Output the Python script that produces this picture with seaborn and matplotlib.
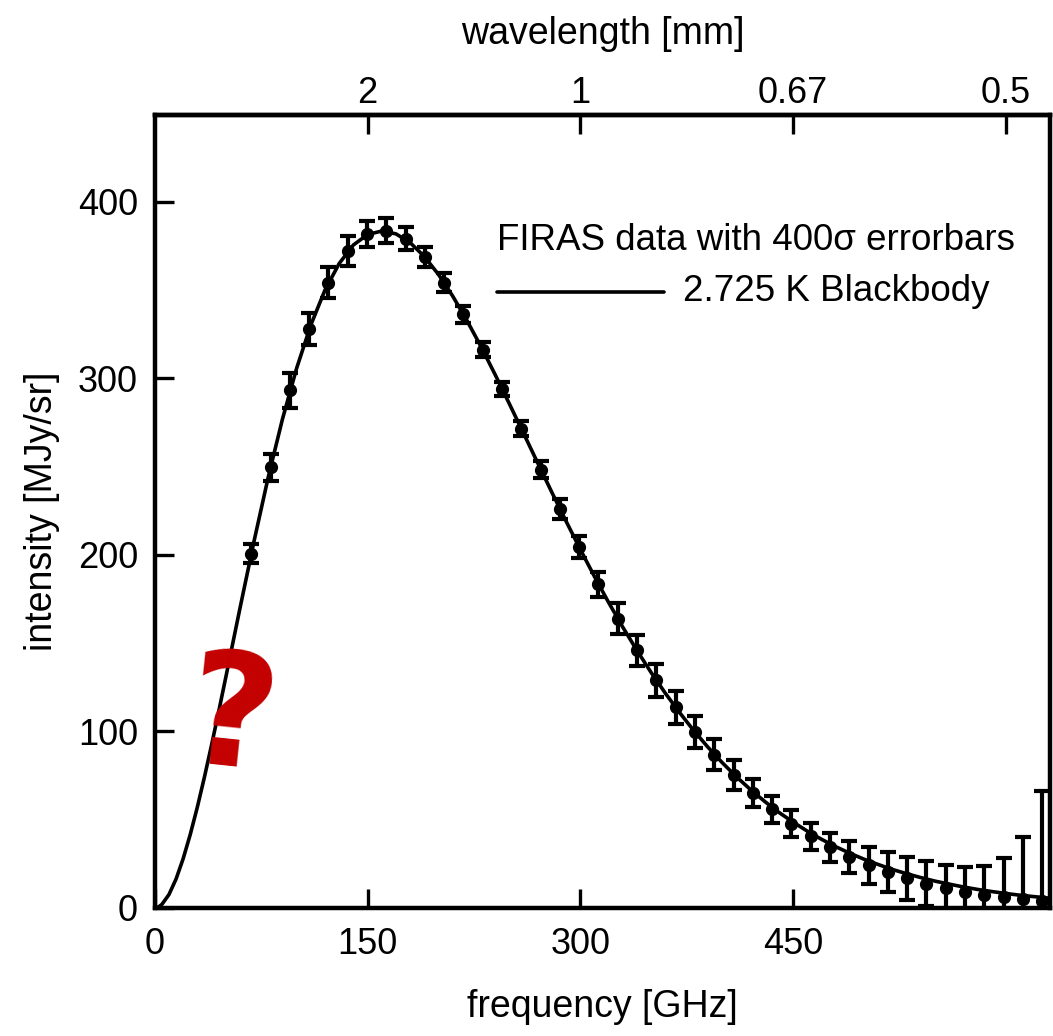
import matplotlib
matplotlib.use("Agg")
import matplotlib.pyplot as plt
import seaborn as sns
import pandas as pd
from matplotlib import font_manager

# ---------------- data ----------------
freq_ghz = [68.1, 81.6, 95.2, 108.8, 122.4, 136.0, 149.6, 163.2, 176.8, 190.4,
            204.0, 217.6, 231.2, 244.8, 258.4, 272.0, 285.6, 299.2, 312.8, 326.4,
            340.0, 353.6, 367.2, 380.8, 394.4, 408.0, 421.6, 435.2, 448.8, 462.4,
            476.0, 489.6, 503.2, 516.8, 530.4, 544.0, 557.6, 571.2, 584.8, 598.4,
            612.0, 625.6]
intensity = [200.7, 249.5, 293.0, 327.8, 354.1, 372.1, 381.5, 383.5, 378.9, 368.8,
             354.1, 336.3, 316.1, 293.9, 271.4, 248.2, 225.9, 204.3, 183.3, 163.8,
             145.8, 128.8, 113.6, 99.5, 86.8, 75.3, 65.0, 55.8, 47.6, 40.6,
             34.3, 28.9, 24.2, 20.2, 16.7, 13.8, 11.3, 9.3, 7.6, 6.1,
             4.9, 4.0]
err_400sigma = [5.6, 7.6, 10.0, 9.2, 8.8, 8.4, 7.2, 7.2, 6.4, 5.6,
                5.2, 4.8, 4.4, 4.0, 4.4, 4.8, 5.6, 6.4, 7.2, 8.8,
                8.8, 9.2, 9.2, 9.2, 8.8, 8.4, 8.0, 7.6, 7.6, 7.6,
                8.4, 9.2, 10.4, 11.2, 12.0, 12.8, 13.2, 14.0, 16.4, 22.0,
                35.2, 62.0]

curve_freq = [0, 2.5, 5, 10, 15, 20, 25, 30, 35, 40, 45, 50, 60, 70, 80, 90,
              100, 110, 120, 130, 140, 150, 160, 170, 180, 190, 200, 210, 220,
              230, 240, 250, 260, 270, 280, 290, 300, 310, 320, 330, 340, 350,
              360, 370, 380, 390, 400, 410, 420, 430, 440, 450, 460, 470, 480,
              490, 500, 510, 520, 530, 540, 550, 560, 570, 580, 590, 600, 610,
              620, 630]
curve_intensity = [0.0, 0.5, 2.0, 7.6, 16.4, 27.9, 41.6, 57.1, 74.1, 92.2, 111.0,
                   130.4, 169.5, 207.8, 244.0, 276.8,
                   305.6, 330.1, 349.9, 364.9, 375.4, 381.3, 383.3, 381.7, 376.7,
                   368.9, 358.7, 346.5, 332.7, 317.8, 301.9, 285.4, 268.7, 251.9,
                   235.2, 218.9, 203.0, 187.6, 172.9, 158.9, 145.7, 133.2, 121.5,
                   110.6, 100.4, 91.0, 82.3, 74.3, 67.0, 60.3, 54.1, 48.6, 43.5,
                   38.9, 34.7, 31.0, 27.6, 24.6, 21.8, 19.4, 17.2, 15.2, 13.5,
                   11.9, 10.5, 9.3, 8.2, 7.2, 6.4, 5.6]

x_ticks = [0, 150, 300, 450]
y_ticks = [0, 100, 200, 300, 400]
wl_tick_freq = [150, 300, 450, 600]
wl_tick_labels = ["2", "1", "0.67", "0.5"]

legend_data = "FIRAS data with 400\u03c3 errorbars"
legend_curve = "2.725 K Blackbody"

# ---------------- style ----------------
sns.set_theme(style="ticks")
names = {f.name for f in font_manager.fontManager.ttflist}
fam = ["Liberation Sans Narrow", "Liberation Sans", "DejaVu Sans"]
fam = [f for f in fam if f in names] or ["DejaVu Sans"]
if "DejaVu Sans" not in fam:
    fam.append("DejaVu Sans")
plt.rcParams["font.family"] = fam
plt.rcParams["text.color"] = "black"
plt.rcParams["axes.labelcolor"] = "black"
plt.rcParams["xtick.color"] = "black"
plt.rcParams["ytick.color"] = "black"

fig = plt.figure(figsize=(10.53, 10.36), dpi=100)
ax = fig.add_axes([0.147, 0.1236, 0.850, 0.7654])

df_curve = pd.DataFrame({"freq": curve_freq, "I": curve_intensity})
sns.lineplot(data=df_curve, x="freq", y="I", ax=ax, color="black",
             linewidth=2.6, zorder=3)
ax.errorbar(freq_ghz, intensity, yerr=err_400sigma, fmt="o", color="black",
            markersize=8.5, elinewidth=3, capsize=5.5, capthick=3,
            zorder=4, clip_on=True)

ax.set_xlim(0, 631)
ax.set_ylim(0, 449)
ax.set_xticks(x_ticks)
ax.set_yticks(y_ticks)
ax.tick_params(direction="in", length=14, width=2.4, labelsize=26,
               pad=14, colors="black")
ax.tick_params(axis="y", pad=12)
for s in ax.spines.values():
    s.set_linewidth(3.2)
    s.set_color("black")

ax.set_xlabel("frequency [GHz]", fontsize=27, labelpad=19)
ax.set_ylabel("intensity [MJy/sr]", fontsize=27, labelpad=13)

sec = ax.secondary_xaxis("top")
sec.set_xticks(wl_tick_freq)
sec.set_xticklabels(wl_tick_labels)
sec.tick_params(direction="in", length=14, width=2.4, labelsize=26, pad=3)
sec.spines["top"].set_linewidth(3.2)
sec.set_xlabel("wavelength [mm]", fontsize=27, labelpad=23)

# legend (text entries)
ax.text(0.382, 0.842, legend_data, transform=ax.transAxes, fontsize=26.5,
        ha="left", va="center")
ax.plot([0.382, 0.569], [0.777, 0.777], transform=ax.transAxes,
        color="black", linewidth=2.6)
ax.text(0.590, 0.777, legend_curve, transform=ax.transAxes, fontsize=26.5,
        ha="left", va="center")

# red hand-drawn question mark
ax.text(54, 104, "?", color="#c40000", fontsize=112, fontweight="bold",
        family=["DejaVu Sans"], rotation=-6, ha="center", va="center", zorder=6)

fig.savefig("out.png", dpi=100)
